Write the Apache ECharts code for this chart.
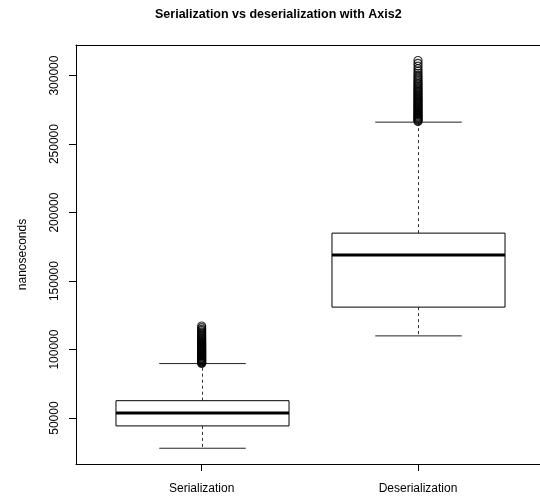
<!DOCTYPE html>
<html>
<head>
<meta charset="utf-8">
<script src="https://cdn.jsdelivr.net/npm/echarts@6/dist/echarts.min.js"></script>
<style>
html,body{margin:0;padding:0;background:#fff;}
#chart{width:540px;height:499px;}
</style>
</head>
<body>
<div id="chart"></div>
<script>
// box statistics
var categories=['Serialization','Deserialization'];
var lowerWhisker=[28000,110000];
var q1=[44300,131000];
var median=[53800,169100];
var q3=[62700,185000];
var upperWhisker=[89800,266000];
var yTicks=[50000,100000,150000,200000,250000,300000];

// outliers (dense columns of circles above the upper whisker)
var serOutliers=[89900,90400,90800,91300,91700,92200,92600,93100,93500,94000,94600,95100,95500,96000,96600,97100,97500,98100,98600,99000,99600,100100,100700,101200,101800,102300,102900,103500,104000,104600,105200,105900,106500,107200,107900,108600,109400,110200,111000,111900,112800,113900,114800,116000,117200];
var desOutliers=[266400,267000,267700,268300,269000,269600,270300,271000,271600,272300,273000,273700,274400,275100,275800,276600,277300,278000,278800,279500,280300,281000,281800,282600,283400,284200,285000,285900,286700,287600,288500,289400,290300,291300,292200,293200,294200,295300,296400,297600,298900,300200,301700,303300,305000,306900,308900,311000];

var font='"Liberation Sans", Arial, sans-serif';

var boxData=[];
for(var i=0;i<categories.length;i++){
	boxData.push([i+1,lowerWhisker[i],q1[i],median[i],q3[i],upperWhisker[i]]);
}
var outlierData=serOutliers.map(function(v){return [1,v];})
	.concat(desOutliers.map(function(v){return [2,v];}));

// R style box: dashed whiskers, solid caps, thick median
function renderBox(params,api){
	var x=api.value(0);
	var half=api.size([0.4,0])[0];
	var cap=half/2;
	var lo=api.coord([x,api.value(1)]);
	var b1=api.coord([x,api.value(2)]);
	var md=api.coord([x,api.value(3)]);
	var b3=api.coord([x,api.value(4)]);
	var hi=api.coord([x,api.value(5)]);
	var cx=Math.round(md[0])+0.5;
	var dash={stroke:'#333',lineWidth:1,lineDash:[3,3]};
	var solid={stroke:'#222',lineWidth:1};
	return {
		type:'group',
		children:[
			{type:'line',shape:{x1:cx,y1:b3[1],x2:cx,y2:hi[1]},style:dash},
			{type:'line',shape:{x1:cx,y1:b1[1],x2:cx,y2:lo[1]},style:dash},
			{type:'line',shape:{x1:cx-cap,y1:hi[1],x2:cx+cap,y2:hi[1]},style:solid},
			{type:'line',shape:{x1:cx-cap,y1:lo[1],x2:cx+cap,y2:lo[1]},style:solid},
			{type:'rect',shape:{x:cx-half,y:b3[1],width:half*2,height:b1[1]-b3[1]},style:{fill:'#fff',stroke:'#000',lineWidth:1}},
			{type:'line',shape:{x1:cx-half,y1:md[1],x2:cx+half,y2:md[1]},style:{stroke:'#000',lineWidth:3}}
		]
	};
}

var mychart=echarts.init(document.getElementById('chart'),null,{renderer:'canvas'});
var option={
	animation:false,
	backgroundColor:'#fff',
	title:{
		text:'Serialization vs deserialization with Axis2',
		left:155,
		top:8,
		padding:0,
		textStyle:{fontFamily:font,fontSize:12.5,fontWeight:'bold',color:'#000'}
	},
	// plot region runs past the right edge of the picture, so no right border
	grid:{
		left:76,
		right:0,
		top:45,
		bottom:35
	},
	xAxis:[
		{
			type:'value',
			min:0.419,
			max:2.564,
			axisLine:{show:true,onZero:false,lineStyle:{color:'#000',width:1}},
			splitLine:{show:false},
			axisTick:{show:true,length:7,customValues:[1,2],lineStyle:{color:'#000'}},
			axisLabel:{
				customValues:[1,2],
				margin:19,
				fontFamily:font,
				fontSize:12,
				color:'#000',
				formatter:function(v){return categories[Math.round(v)-1];}
			}
		},
		{
			type:'value',
			position:'top',
			min:0.419,
			max:2.564,
			axisLine:{show:true,onZero:false,lineStyle:{color:'#000',width:1}},
			splitLine:{show:false},
			axisTick:{show:false},
			axisLabel:{show:false}
		}
	],
	yAxis:{
		type:'value',
		min:16500,
		max:322300,
		name:'nanoseconds',
		nameLocation:'middle',
		nameGap:47,
		nameTextStyle:{fontFamily:font,fontSize:12,color:'#000'},
		axisLine:{show:true,onZero:false,lineStyle:{color:'#000',width:1}},
		splitLine:{show:false},
		axisTick:{show:true,length:7,customValues:yTicks,lineStyle:{color:'#000'}},
		axisLabel:{
			customValues:yTicks,
			rotate:90,
			margin:15,
			fontFamily:font,
			fontSize:12,
			color:'#000',
			formatter:function(v){return String(v);}
		}
	},
	series:[
		{
			type:'custom',
			renderItem:renderBox,
			data:boxData,
			encode:{x:0,y:[1,2,3,4,5]},
			z:2
		},
		{
			type:'scatter',
			data:outlierData,
			symbol:'circle',
			symbolSize:8,
			itemStyle:{color:'rgba(0,0,0,0)',borderColor:'#000',borderWidth:1.2},
			z:3
		}
	]
};
mychart.setOption(option);
</script>
</body>
</html>
